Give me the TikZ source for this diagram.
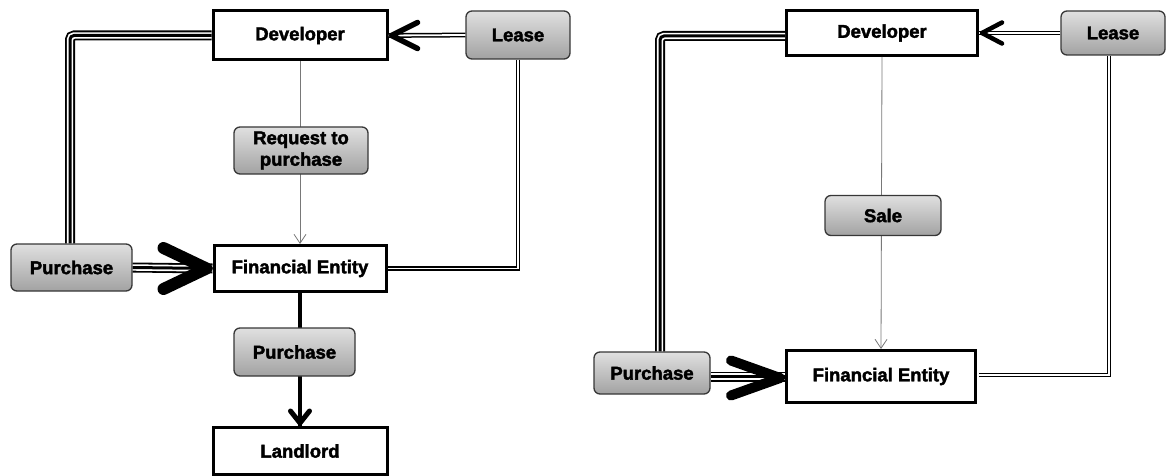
\documentclass[tikz,border=0pt]{standalone}
\usepackage{fontspec}
\setmainfont{Liberation Sans}[BoldFeatures={FakeBold=2.2}]
\usetikzlibrary{arrows.meta}
\definecolor{shadetop}{RGB}{224,224,224}
\definecolor{shadebot}{RGB}{162,162,162}
\definecolor{rimgray}{RGB}{55,55,55}
\definecolor{thingray}{RGB}{120,120,120}
\begin{document}
\begin{tikzpicture}[x=1pt,y=-1pt,
  lbl/.style={font=\fontsize{18.5}{21.5}\selectfont\bfseries, align=center, inner sep=0pt},
  plainbox/.style={lbl, draw=black, line width=3pt, fill=white},
  graybox/.style={lbl, draw=rimgray, line width=1.3pt, rounded corners=6pt,
    top color=shadetop, bottom color=shadebot},
  tripleline/.style={draw=black, line width=10pt, rounded corners=4pt,
    postaction={draw=white, line width=6.4pt},
    postaction={draw=black, line width=3pt}},
  dblline/.style={draw=black, double=white, double distance=1.8pt, line width=1.5pt},
  thinarr/.style={draw=thingray, line width=0.8pt, -{Straight Barb[length=9pt,width=12pt]}},
  chev/.style={draw=black, line cap=round, line join=round}]
\useasboundingbox (0,0) rectangle (1169,476);

% ---------- left flow ----------
\node[plainbox, minimum width=174pt, minimum height=49pt] (dev1) at (300,35.5) {Developer};
\node[graybox, minimum width=104pt, minimum height=48pt] (lease1) at (518,35) {Lease};
\node[graybox, minimum width=121pt, minimum height=47pt] (pur1) at (71.5,267.5) {Purchase};
\node[plainbox, minimum width=172pt, minimum height=46pt] (fe1) at (300,268.5) {Financial Entity};
\node[plainbox, minimum width=174pt, minimum height=47pt] (ll) at (300,451) {Landlord};

\draw[tripleline] (dev1.west) -| ([shift={(-1.5,0)}]pur1.north);
\draw[tripleline] (pur1.east) -- (fe1.west);
\draw[chev, line width=12pt] ([shift={(-6,0)}]fe1.west) ++(-43,-20.5) -- ++(43,20.5) -- ++(-43,20.5);

\draw[dblline] (lease1.west) -- (dev1.east);
\draw[chev, line width=5.5pt] ([shift={(3,0)}]dev1.east) ++(26,-13) -- ++(-26,13) -- ++(26,13);

\draw[dblline] (lease1.south) |- (fe1.east);

\draw[thinarr] (dev1.south) -- (fe1.north);

\draw[line width=4.5pt] (fe1.south) -- (ll.north);
\draw[chev, line width=5pt] ([shift={(0,-3)}]ll.north) ++(-9.5,-12) -- ++(9.5,12) -- ++(9.5,-12);

\node[graybox, minimum width=134pt, minimum height=47pt] (req) at (301,150.5) {Request to\\purchase};
\node[graybox, minimum width=121pt, minimum height=48pt] (pur3) at (294.5,352) {Purchase};

% ---------- right flow ----------
\node[plainbox, minimum width=191pt, minimum height=45pt] (dev2) at (882,33) {Developer};
\node[graybox, minimum width=104pt, minimum height=44pt] (lease2) at (1113,33) {Lease};
\node[graybox, minimum width=116pt, minimum height=42pt] (pur2) at (652,373) {Purchase};
\node[plainbox, minimum width=189pt, minimum height=52pt] (fe2) at (881,376.5) {Financial Entity};

\draw[tripleline] ([shift={(0,3)}]dev2.west) -| ([shift={(8,0)}]pur2.north);
\draw[tripleline] (pur2.east |- fe2.west) -- (fe2.west);
\draw[chev, line width=10pt] ([shift={(-5,1.5)}]fe2.west) ++(-49,-17.5) -- ++(49,17.5) -- ++(-49,17.5);

\draw[dblline] (lease2.west) -- (dev2.east);
\draw[chev, line width=4.5pt] ([shift={(3,0)}]dev2.east) ++(20,-10.5) -- ++(-20,10.5) -- ++(20,10.5);

\draw[dblline] ([shift={(-4,0)}]lease2.south) |- ([shift={(2,-1.5)}]fe2.east);

\draw[thinarr] (dev2.south) -- (fe2.north);

\node[graybox, minimum width=116pt, minimum height=40pt] (sale) at (883,215.5) {Sale};
\end{tikzpicture}
\end{document}
